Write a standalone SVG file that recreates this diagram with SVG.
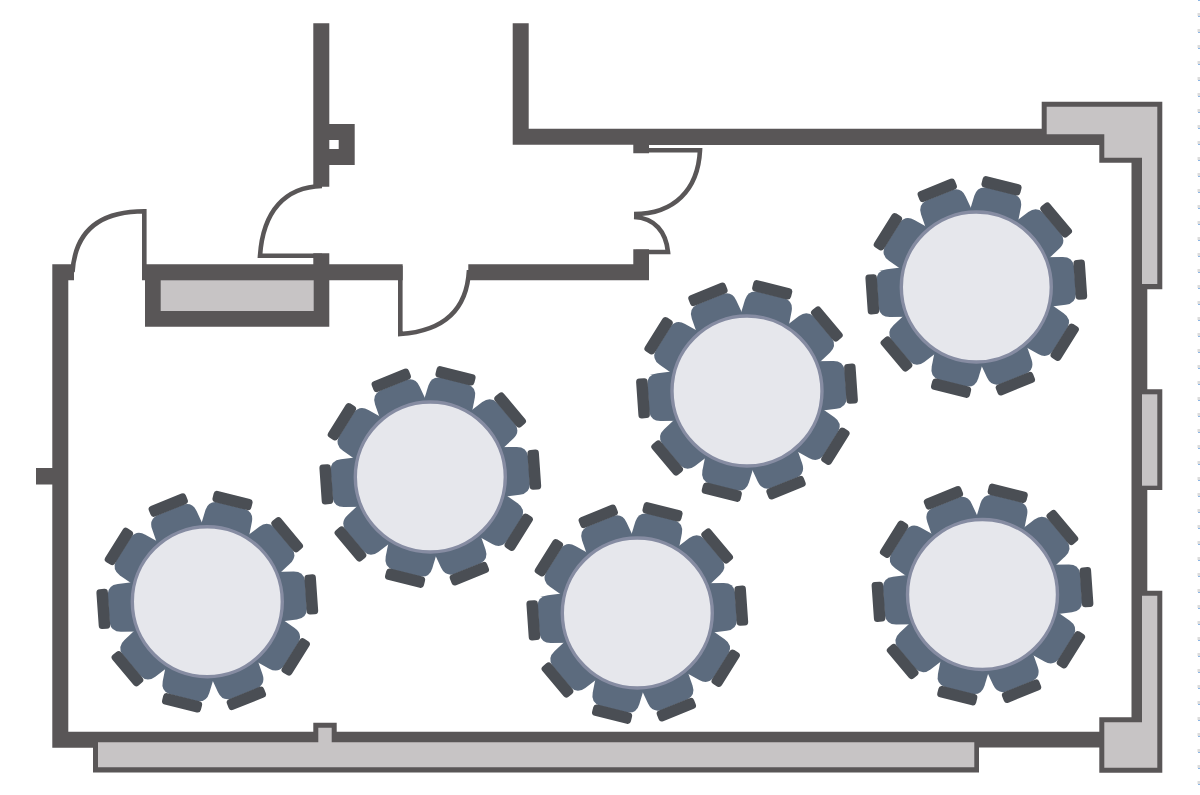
<svg xmlns="http://www.w3.org/2000/svg" width="1200" height="795" viewBox="0 0 1200 795">
<style>
.wall{fill:#595657}
.fillg{fill:#c7c4c5}
.door{fill:none;stroke:#595657;stroke-width:4.6;stroke-linejoin:miter}
.seat{fill:#5c6b7e}
.back{fill:#4a4e54}
.top{fill:#e6e7ec;stroke:#868ca2;stroke-width:3.4}
</style>
<defs>
<g id="chair">
<path class="seat" d="M68,-25 L88,-24 Q98,-23.500 99,-14 L99,14 Q98,23.500 88,24 L68,25 Z"/>
<rect class="back" x="98.500" y="-20" width="11.500" height="40" rx="3.500"/>
</g>
<g id="table">
<use href="#chair" transform="rotate(-4)"/>
<use href="#chair" transform="rotate(32)"/>
<use href="#chair" transform="rotate(68)"/>
<use href="#chair" transform="rotate(104)"/>
<use href="#chair" transform="rotate(140)"/>
<use href="#chair" transform="rotate(176)"/>
<use href="#chair" transform="rotate(212)"/>
<use href="#chair" transform="rotate(248)"/>
<use href="#chair" transform="rotate(284)"/>
<use href="#chair" transform="rotate(320)"/>
<circle class="top" r="75"/>
</g>
</defs>
<rect width="1200" height="795" fill="#fff"/>
<g id="doors">
<path class="door" d="M72.500,272 C75,232 98,211.300 144.300,211.300 L144.300,278"/>
<path class="door" d="M322,186 C285,187 263,211 260,255.800 L322,255.800"/>
<path class="door" d="M400.300,266 L400.300,334 C444,331 467,310 469,270"/>
<path class="door" d="M645,150.300 L700,150.300 C698,190 674,214 634,214"/>
<path class="door" d="M634,217 C655,218 666,232 668,252 L636,252"/>
</g>
<g id="walls">
<path class="wall" d="M36,468 H52.300 V264.300 H74 V280.300 H68.300 V731.700 H313.300 V722.700 H336.700 V731.700 H1099.300 V717.300 H1131.500 V162.700 H1099.300 V145 H649 V153.300 H633.300 V144.700 H512.700 V23.300 H528.700 V128.700 H1041.700 V101.700 H1162.300 V289.300 H1147.300 V389.300 H1162.300 V490 H1147.300 V590.700 H1162.300 V772.700 H1099.300 V747.500 H979 V772.500 H93 V747.700 H52.300 V484.500 H36 Z"/>
<path class="wall" d="M313.300,23.300 H329.300 V124 H354.700 V165 H329.300 V186.700 H313.300 Z M329.300,140 V149 H338.700 V140 Z" fill-rule="evenodd"/>
<path class="wall" d="M142,264.300 H313.300 V253.300 H329.300 V264.300 H402.700 V280.300 H329.300 V326.700 H145 V280.300 H142 Z"/>
<path class="wall" d="M468.300,264.300 H633.300 V249.300 H649 V280.300 H468.300 Z"/>
</g>
<g id="wall-fill">
<rect class="fillg" x="160.700" y="280.300" width="153" height="30.700"/>
<path class="fillg" d="M1046.700,106.700 H1157.300 V284 H1142 V157.700 H1104.300 V134.300 H1046.700 Z"/>
<rect class="fillg" x="1142" y="394.300" width="15.300" height="91.400"/>
<path class="fillg" d="M1142,595.700 H1157.300 V767.700 H1104.300 V722.300 H1142 Z"/>
<path class="fillg" d="M98,742.300 H318.300 V727.700 H331.700 V742.300 H974.300 V767.300 H98 Z"/>
</g>
<g id="tables">
<use id="table-1" href="#table" x="207.300" y="601.700"/>
<use id="table-2" href="#table" x="430.300" y="477"/>
<use id="table-3" href="#table" x="637.300" y="613"/>
<use id="table-4" href="#table" x="747" y="391"/>
<use id="table-5" href="#table" x="976.300" y="287"/>
<use id="table-6" href="#table" x="982.500" y="594.500"/>
</g>
<g id="edge-ticks" fill="none" stroke-width="2">
<line x1="1199" y1="0" x2="1199" y2="795" stroke="#dcdcdc" stroke-width="3" stroke-dasharray="3 13" stroke-dashoffset="3"/>
<line x1="1199" y1="0" x2="1199" y2="795" stroke="#8db6e4" stroke-dasharray="1 15"/>
</g>
</svg>
